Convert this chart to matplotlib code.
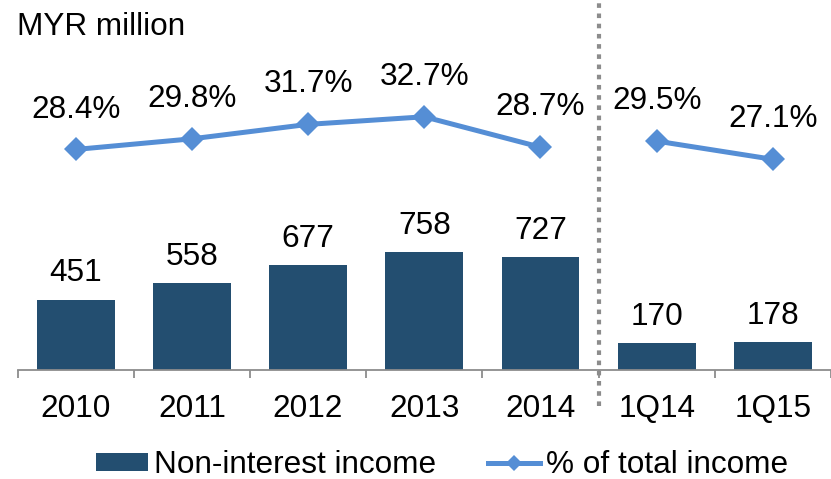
import matplotlib
matplotlib.use("Agg")
import matplotlib.pyplot as plt
from matplotlib.lines import Line2D
from matplotlib.patches import Patch
import numpy as np

plt.rcParams['font.family'] = ['Liberation Sans', 'DejaVu Sans']

categories = ["2010", "2011", "2012", "2013", "2014", "1Q14", "1Q15"]
non_interest_income = [451, 558, 677, 758, 727, 170, 178]
pct_total_income = [28.4, 29.8, 31.7, 32.7, 28.7, 29.5, 27.1]
pct_labels = ["28.4%", "29.8%", "31.7%", "32.7%", "28.7%", "29.5%", "27.1%"]
segments = [[0, 1, 2, 3, 4], [5, 6]]

BAR_COLOR = "#234E70"
LINE_COLOR = "#558ED5"
AXIS_GRAY = "#8C8C8C"
FS = 22.7

W, H = 831, 479
fig = plt.figure(figsize=(W / 100, H / 100), dpi=100)

left_px, right_px = 17.5, 831
base_px = 369.5
ax = fig.add_axes([left_px / W, (H - base_px) / H, (right_px - left_px) / W, base_px / H])
ax.patch.set_alpha(0)
step = 117.9
x = np.arange(len(categories))
ax.set_xlim(-0.5, -0.5 + (right_px - left_px) / step)
ax.set_ylim(0, base_px / 0.1545)

ax.bar(x, non_interest_income, width=0.67, color=BAR_COLOR, zorder=2)
for xi, v in zip(x, non_interest_income):
    ax.annotate(str(v), (xi, v), xytext=(0, 13.2), textcoords="offset points",
                ha="center", va="baseline", fontsize=FS, color="black")

for s in ["top", "right", "left"]:
    ax.spines[s].set_visible(False)
ax.spines["bottom"].set_color(AXIS_GRAY)
ax.spines["bottom"].set_linewidth(1.3)
ax.set_yticks([])
ax.set_xticks(x)
ax.set_xticklabels(categories, fontsize=FS)
ax.tick_params(axis="x", which="major", length=0, pad=17.5)
ax.set_xticks(np.arange(-0.5, len(categories), 1.0), minor=True)
ax.tick_params(axis="x", which="minor", length=6, width=1.3, color=AXIS_GRAY, direction="out")

ax2 = ax.twinx()
for s in ax2.spines.values():
    s.set_visible(False)
ax2.set_yticks([])
ax2.set_ylim((365.3 - base_px) / 7.6, 365.3 / 7.6)
for seg in segments:
    ax2.plot([x[i] for i in seg], [pct_total_income[i] for i in seg], color=LINE_COLOR,
             lw=3.6, marker="D", markersize=12.5, markeredgewidth=0, zorder=3)
for xi, v, lab in zip(x, pct_total_income, pct_labels):
    ax2.annotate(lab, (xi, v), xytext=(0, 23), textcoords="offset points",
                 ha="center", va="baseline", fontsize=FS, color="black")

# vertical dotted separator
ax2.axvline(4.5, ymin=-0.098, ymax=1.0, color=AXIS_GRAY, lw=3.0,
            linestyle=(0, (1.1, 1.35)), clip_on=False, zorder=1)

fig.text(17 / W, 1 - 35 / H, "MYR million", fontsize=FS, ha="left", va="baseline")

handles = [Patch(facecolor=BAR_COLOR, edgecolor="none"),
           Line2D([0], [0], color=LINE_COLOR, lw=3.6, marker="D", markersize=8, markeredgewidth=0)]
fig.legend(handles, ["Non-interest income", "% of total income"], ncol=2, frameon=False,
           fontsize=FS, loc="center left", bbox_to_anchor=(96 / W, 1 - 465 / H),
           borderpad=0, borderaxespad=0, handlelength=1.65, handleheight=0.48,
           handletextpad=0.19, columnspacing=1.65)

fig.savefig("out.png", dpi=100)
